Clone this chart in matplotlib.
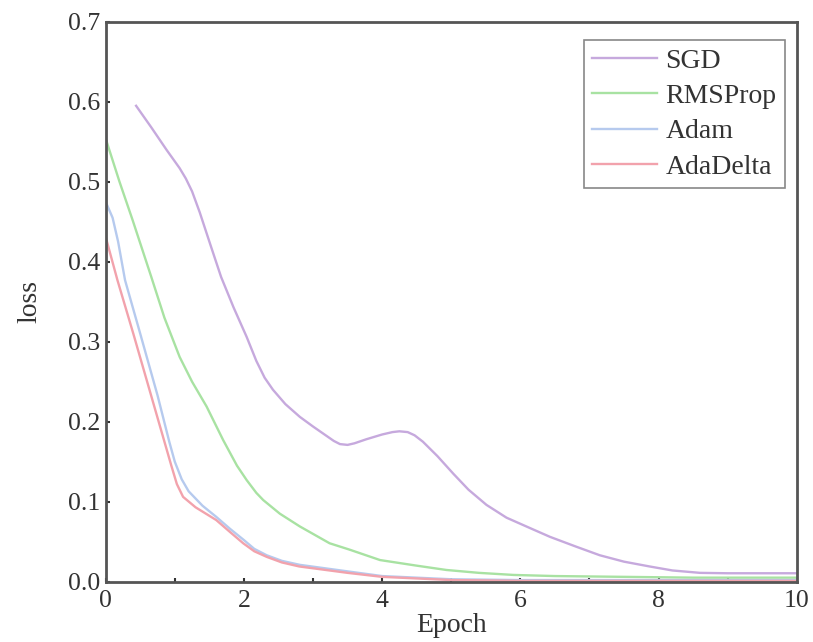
import matplotlib.pyplot as plt
import numpy as np

plt.rcParams['font.family'] = ['Liberation Serif', 'DejaVu Serif']

# epoch / loss values
sgd_x = [0.44, 0.66, 0.88, 1.07, 1.16, 1.25, 1.36, 1.52, 1.67, 1.85, 2.04, 2.18, 2.3, 2.42, 2.6, 2.81,
         3.0, 3.2, 3.3, 3.39, 3.5, 3.6, 3.77, 4.0, 4.15, 4.25, 4.37, 4.47, 4.59, 4.8, 5.03, 5.25, 5.51,
         5.8, 6.14, 6.43, 6.8, 7.15, 7.5, 7.87, 8.2, 8.6, 9.0, 9.5, 10]
sgd_y = [0.595, 0.568, 0.54, 0.517, 0.504, 0.488, 0.462, 0.42, 0.381, 0.343, 0.306, 0.276, 0.255, 0.24, 0.222, 0.206,
         0.194, 0.182, 0.176, 0.172, 0.171, 0.173, 0.178, 0.184, 0.187, 0.188, 0.187, 0.183, 0.175, 0.157, 0.135, 0.115, 0.096,
         0.08, 0.067, 0.056, 0.044, 0.033, 0.025, 0.019, 0.014, 0.011, 0.0105, 0.0105, 0.0105]

rms_x = [0, 0.2, 0.39, 0.66, 0.85, 1.07, 1.25, 1.46, 1.7, 1.9, 2.04, 2.18, 2.28, 2.52, 2.81,
         3.24, 3.53, 3.97, 4.5, 4.93, 5.4, 5.9, 6.5, 7.5, 8.5, 10]
rms_y = [0.554, 0.50, 0.452, 0.381, 0.33, 0.281, 0.25, 0.219, 0.177, 0.145, 0.127, 0.111, 0.102, 0.085, 0.069,
         0.048, 0.040, 0.027, 0.020, 0.0146, 0.011, 0.0084, 0.007, 0.006, 0.005, 0.005]

adam_x = [0, 0.1, 0.18, 0.28, 0.5, 0.75, 0.92, 1.0, 1.1, 1.2, 1.4, 1.6, 1.8, 2.0, 2.15, 2.33, 2.55, 2.81,
          3.53, 4.0, 5, 6, 8, 10]
adam_y = [0.475, 0.455, 0.425, 0.377, 0.31, 0.233, 0.175, 0.15, 0.128, 0.113, 0.095, 0.081, 0.066, 0.052, 0.041, 0.033, 0.026, 0.021,
          0.0125, 0.007, 0.003, 0.002, 0.002, 0.002]

ada_x = [0, 0.17, 0.4, 0.6, 0.8, 0.95, 1.03, 1.12, 1.3, 1.6, 1.8, 1.99, 2.15, 2.33, 2.55, 2.8, 3.5, 4.0, 5, 6, 8, 10]
ada_y = [0.431, 0.377, 0.31, 0.25, 0.19, 0.145, 0.122, 0.106, 0.093, 0.077, 0.062, 0.048, 0.038, 0.031, 0.024, 0.019,
         0.011, 0.006, 0.002, 0.001, 0.001, 0.001]

fig = plt.figure(figsize=(8.13, 6.42), dpi=100)
ax = fig.add_axes([0.130, 0.094, 0.850, 0.872])

ax.plot(sgd_x, sgd_y, color='#c6a9dd', lw=1.7, label='SGD')
ax.plot(rms_x, rms_y, color='#a8e2a2', lw=1.7, label='RMSProp')
ax.plot(adam_x, adam_y, color='#b6caee', lw=1.7, label='Adam')
ax.plot(ada_x, ada_y, color='#f2a2ac', lw=1.7, label='AdaDelta')

ax.set_xlim(0, 10)
ax.set_ylim(0, 0.7)
ax.set_xticks([0, 2, 4, 6, 8, 10])
ax.set_xticks([1, 3, 5, 7, 9], minor=True)
ax.set_yticks(np.arange(0, 0.71, 0.1))
ax.set_yticklabels(['0.0', '0.1', '0.2', '0.3', '0.4', '0.5', '0.6', '0.7'])
ax.tick_params(which='both', direction='in', length=3, width=1.5, labelsize=18.5,
               colors='#333333')
ax.tick_params(axis='x', pad=6)
ax.tick_params(axis='y', pad=4)

for s in ax.spines.values():
    s.set_color('#555555')
    s.set_linewidth(2)

ax.set_xlabel('Epoch', fontsize=20, color='#333333', labelpad=1)
ax.set_ylabel('loss', fontsize=20, color='#333333', labelpad=18)

leg = ax.legend(loc='upper right', bbox_to_anchor=(0.983, 0.968), borderaxespad=0,
                fontsize=20, fancybox=False, framealpha=1,
                handlelength=2.35, handletextpad=0.3, borderpad=0.3, labelspacing=0.36)
leg.get_frame().set_edgecolor('#888888')
leg.get_frame().set_linewidth(1.2)
for t in leg.get_texts():
    t.set_color('#333333')

fig.savefig('out.png', dpi=100)
